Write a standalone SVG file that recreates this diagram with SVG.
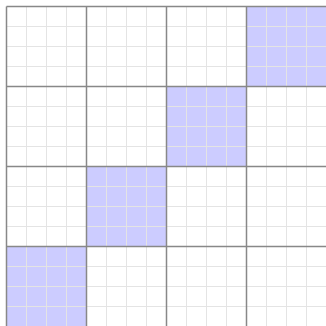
<svg xmlns="http://www.w3.org/2000/svg" width="326" height="326" viewBox="0 0 326 326">
<defs>
<style>
.cell{fill:#ccccff}
.minor{stroke:#e4e4e4;stroke-width:1;fill:none}
.major{stroke:#888888;stroke-width:1.5;fill:none}
</style>
</defs>
<rect width="326" height="326" fill="#ffffff"/>
<g id="cells">
<rect class="cell" x="246.5" y="6.5" width="80" height="80"/>
<rect class="cell" x="166.5" y="86.5" width="80" height="80"/>
<rect class="cell" x="86.5" y="166.5" width="80" height="80"/>
<rect class="cell" x="6.5" y="246.5" width="80" height="80"/>
</g>
<g id="minor-grid" class="minor">
<path d="M26.5 6.5V326M46.5 6.5V326M66.5 6.5V326M106.5 6.5V326M126.5 6.5V326M146.5 6.5V326M186.5 6.5V326M206.5 6.5V326M226.5 6.5V326M266.5 6.5V326M286.5 6.5V326M306.5 6.5V326"/>
<path d="M6.5 26.5H326M6.5 46.5H326M6.5 66.5H326M6.5 106.5H326M6.5 126.5H326M6.5 146.5H326M6.5 186.5H326M6.5 206.5H326M6.5 226.5H326M6.5 266.5H326M6.5 286.5H326M6.5 306.5H326"/>
</g>
<g id="major-grid" class="major">
<path d="M6.5 6.5V326M86.5 6.5V326M166.5 6.5V326M246.5 6.5V326"/>
<path d="M6.5 6.5H326M6.5 86.5H326M6.5 166.5H326M6.5 246.5H326"/>
</g>
</svg>
